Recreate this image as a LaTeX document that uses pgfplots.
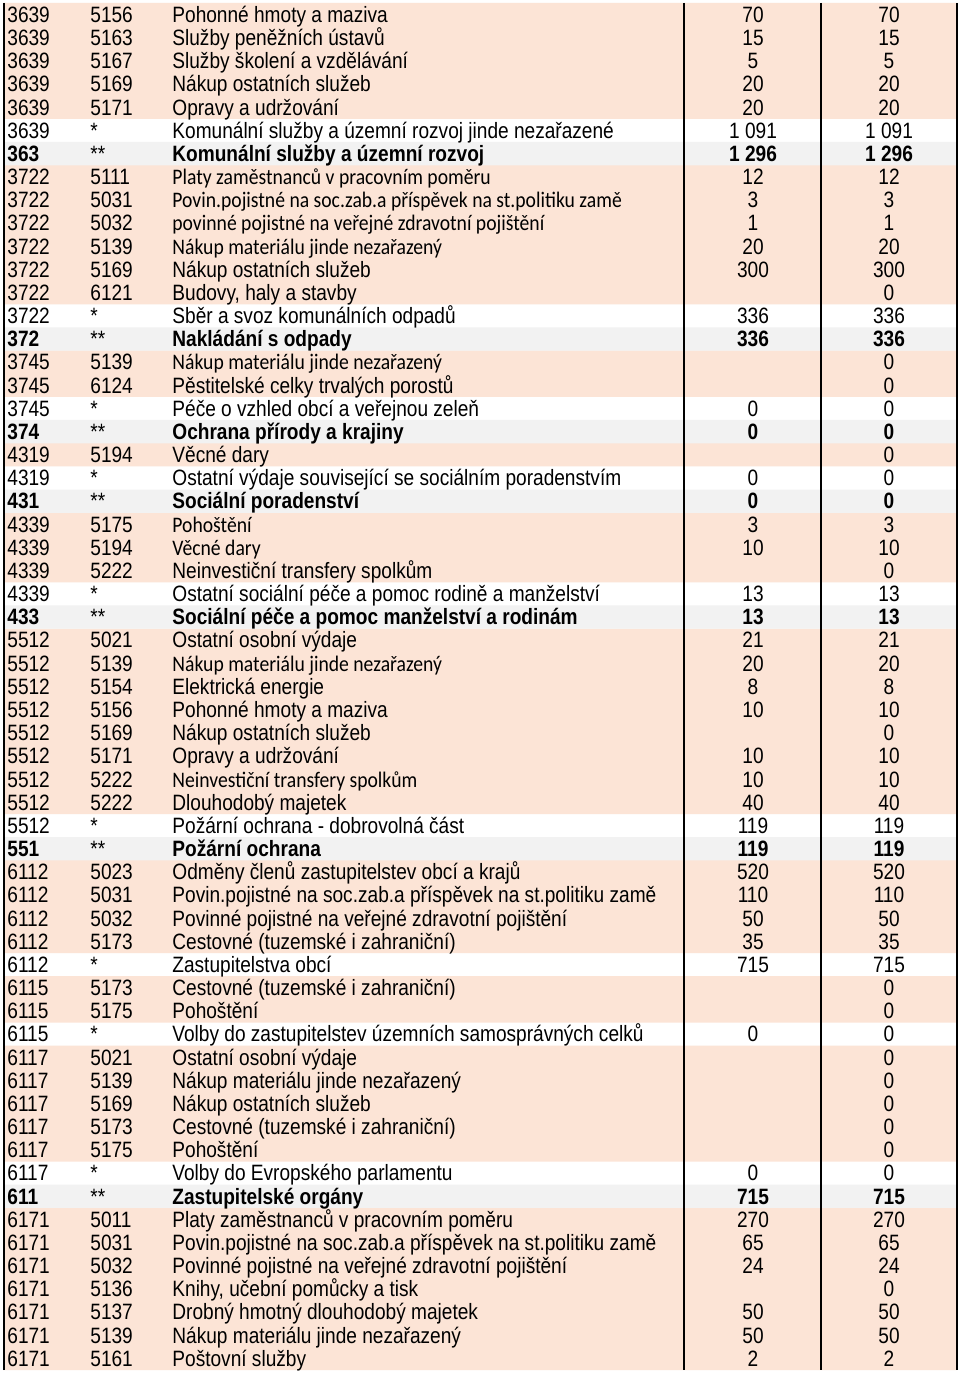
\documentclass[border=0pt]{standalone}
\usepackage{fontspec}
\setmainfont{Liberation Sans}[FakeStretch=0.86]
\newfontfamily\calibri{Carlito}[FakeStretch=0.885]
\usepackage{pgfplots}
\usepackage{pgfplotstable}
\pgfplotsset{compat=1.18}
\definecolor{peach}{HTML}{FCE4D6}
\definecolor{lgray}{HTML}{F2F2F2}
\newcommand\fs{\fontsize{11.1}{12}\selectfont}

% t: 0 = item row, 1 = subtotal (*), 2 = total (**); f: 1 = name set in Calibri
\pgfplotstableread[col sep=semicolon]{
r;a;b;name;v1;v2;t;f
1;3639;5156;Pohonné hmoty a maziva;70;70;0;0
2;3639;5163;Služby peněžních ústavů;15;15;0;0
3;3639;5167;Služby školení a vzdělávání;5;5;0;0
4;3639;5169;Nákup ostatních služeb;20;20;0;0
5;3639;5171;Opravy a udržování;20;20;0;0
6;3639;*;Komunální služby a územní rozvoj jinde nezařazené;1 091;1 091;1;0
7;363;**;Komunální služby a územní rozvoj;1 296;1 296;2;0
8;3722;5111;Platy zaměstnanců v pracovním poměru;12;12;0;1
9;3722;5031;Povin.pojistné na soc.zab.a příspěvek na st.politiku zamě;3;3;0;1
10;3722;5032;povinné pojistné na veřejné zdravotní pojištění;1;1;0;1
11;3722;5139;Nákup materiálu jinde nezařazený;20;20;0;1
12;3722;5169;Nákup ostatních služeb;300;300;0;0
13;3722;6121;Budovy, haly a stavby;;0;0;0
14;3722;*;Sběr a svoz komunálních odpadů;336;336;1;0
15;372;**;Nakládání s odpady;336;336;2;0
16;3745;5139;Nákup materiálu jinde nezařazený;;0;0;1
17;3745;6124;Pěstitelské celky trvalých porostů;;0;0;0
18;3745;*;Péče o vzhled obcí a veřejnou zeleň;0;0;1;0
19;374;**;Ochrana přírody a krajiny;0;0;2;0
20;4319;5194;Věcné dary;;0;0;0
21;4319;*;Ostatní výdaje související se sociálním poradenstvím;0;0;1;0
22;431;**;Sociální poradenství;0;0;2;0
23;4339;5175;Pohoštění;3;3;0;1
24;4339;5194;Věcné dary;10;10;0;1
25;4339;5222;Neinvestiční transfery spolkům;;0;0;0
26;4339;*;Ostatní sociální péče a pomoc rodině a manželství;13;13;1;0
27;433;**;Sociální péče a pomoc manželství a rodinám;13;13;2;0
28;5512;5021;Ostatní osobní výdaje;21;21;0;0
29;5512;5139;Nákup materiálu jinde nezařazený;20;20;0;1
30;5512;5154;Elektrická energie;8;8;0;0
31;5512;5156;Pohonné hmoty a maziva;10;10;0;0
32;5512;5169;Nákup ostatních služeb;;0;0;0
33;5512;5171;Opravy a udržování;10;10;0;0
34;5512;5222;Neinvestiční transfery spolkům;10;10;0;1
35;5512;5222;Dlouhodobý majetek;40;40;0;0
36;5512;*;Požární ochrana - dobrovolná část;119;119;1;0
37;551;**;Požární ochrana;119;119;2;0
38;6112;5023;Odměny členů zastupitelstev obcí a krajů;520;520;0;0
39;6112;5031;Povin.pojistné na soc.zab.a příspěvek na st.politiku zamě;110;110;0;0
40;6112;5032;Povinné pojistné na veřejné zdravotní pojištění;50;50;0;0
41;6112;5173;Cestovné (tuzemské i zahraniční);35;35;0;0
42;6112;*;Zastupitelstva obcí;715;715;1;0
43;6115;5173;Cestovné (tuzemské i zahraniční);;0;0;0
44;6115;5175;Pohoštění;;0;0;0
45;6115;*;Volby do zastupitelstev územních samosprávných celků;0;0;1;0
46;6117;5021;Ostatní osobní výdaje;;0;0;0
47;6117;5139;Nákup materiálu jinde nezařazený;;0;0;0
48;6117;5169;Nákup ostatních služeb;;0;0;0
49;6117;5173;Cestovné (tuzemské i zahraniční);;0;0;0
50;6117;5175;Pohoštění;;0;0;0
51;6117;*;Volby do Evropského parlamentu;0;0;1;0
52;611;**;Zastupitelské orgány;715;715;2;0
53;6171;5011;Platy zaměstnanců v pracovním poměru;270;270;0;0
54;6171;5031;Povin.pojistné na soc.zab.a příspěvek na st.politiku zamě;65;65;0;0
55;6171;5032;Povinné pojistné na veřejné zdravotní pojištění;24;24;0;0
56;6171;5136;Knihy, učební pomůcky a tisk;;0;0;0
57;6171;5137;Drobný hmotný dlouhodobý majetek;50;50;0;0
58;6171;5139;Nákup materiálu jinde nezařazený;50;50;0;0
59;6171;5161;Poštovní služby;2;2;0;0
}\rows

\pgfplotsset{
  % keep rows by type: t = 0/1 plain, t = 2 bold total
  plain/.style={restrict expr to domain={\thisrow{t}}{0:1}},
  total/.style={restrict expr to domain={\thisrow{t}}{2:2}},
  cell/.style 2 args={draw=none, mark=none, point meta=explicit symbolic,
    nodes near coords={\pgfplotspointmeta},
    every node near coord/.append style={anchor=#1, inner sep=0pt, text=black, font=#2}},
  rowfill/.style={xbar, bar shift=0pt, bar width=23.3, draw=none},
}

\begin{document}
\begin{tikzpicture}
\begin{axis}[
  width=480pt, height=687.5pt, scale only axis,
  xmin=0, xmax=960, ymin=0, ymax=1375, y dir=reverse,
  hide axis, clip=false,
]
% page background
\addplot[draw=none, fill=white] coordinates {(0,1375) (960,1375)} \closedcycle;
% row shading
\addplot[rowfill, fill=peach, restrict expr to domain={\thisrow{t}}{0:0}]
  table[x expr=957, y expr=3+23.17*(\thisrow{r}-0.5)] {\rows};
\addplot[rowfill, fill=lgray, total]
  table[x expr=957, y expr=3+23.17*(\thisrow{r}-0.5)] {\rows};
% white margin left of the frame
\addplot[draw=none, fill=white] coordinates {(0,1375) (3,1375)} \closedcycle;

% codes
\addplot[cell={base west}{\fs}, plain]
  table[x expr=7, y expr=3+23.17*(\thisrow{r}-0.5)+7.8, meta=a] {\rows};
\addplot[cell={base west}{\fs\bfseries}, total]
  table[x expr=7, y expr=3+23.17*(\thisrow{r}-0.5)+7.8, meta=a] {\rows};
\addplot[cell={base west}{\fs}]
  table[x expr=90, y expr=3+23.17*(\thisrow{r}-0.5)+7.8, meta=b] {\rows};

% names
\addplot[cell={base west}{\fs}, restrict expr to domain={\thisrow{t}+10*\thisrow{f}}{0:1}]
  table[x expr=172, y expr=3+23.17*(\thisrow{r}-0.5)+7.8, meta=name] {\rows};
\addplot[cell={base west}{\fs\calibri}, restrict expr to domain={\thisrow{f}}{1:1}]
  table[x expr=172, y expr=3+23.17*(\thisrow{r}-0.5)+7.8, meta=name] {\rows};
\addplot[cell={base west}{\fs\bfseries}, total]
  table[x expr=172, y expr=3+23.17*(\thisrow{r}-0.5)+7.8, meta=name] {\rows};

% amounts
\addplot[cell={base}{\fs}, plain]
  table[x expr=753, y expr=3+23.17*(\thisrow{r}-0.5)+7.8, meta=v1] {\rows};
\addplot[cell={base}{\fs\bfseries}, total]
  table[x expr=753, y expr=3+23.17*(\thisrow{r}-0.5)+7.8, meta=v1] {\rows};
\addplot[cell={base}{\fs}, plain]
  table[x expr=889, y expr=3+23.17*(\thisrow{r}-0.5)+7.8, meta=v2] {\rows};
\addplot[cell={base}{\fs\bfseries}, total]
  table[x expr=889, y expr=3+23.17*(\thisrow{r}-0.5)+7.8, meta=v2] {\rows};

% column rules
\addplot[black, line width=1.3pt] coordinates {(4,3) (4,1370)};
\addplot[black, line width=0.8pt] coordinates {(684,3) (684,1370)};
\addplot[black, line width=0.8pt] coordinates {(821,3) (821,1370)};
\addplot[black, line width=1pt] coordinates {(957,3) (957,1370)};
\end{axis}
\end{tikzpicture}
\end{document}
